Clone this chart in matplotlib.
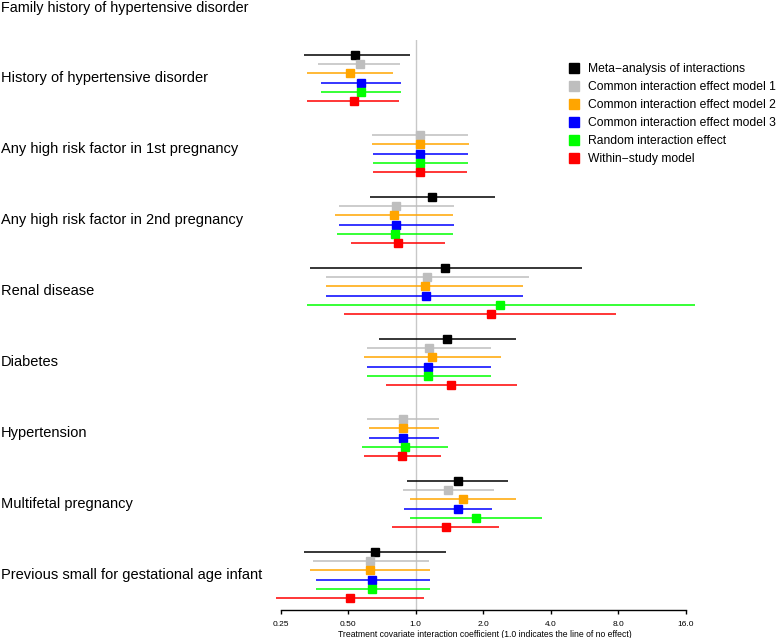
import numpy as np
import matplotlib
matplotlib.use("Agg")
import matplotlib.pyplot as plt
from matplotlib.lines import Line2D

plt.rcParams['font.family'] = ['Liberation Sans', 'DejaVu Sans']

nan = np.nan

groups = ["History of hypertensive disorder",
          "Any high risk factor in 1st pregnancy",
          "Any high risk factor in 2nd pregnancy",
          "Renal disease",
          "Diabetes",
          "Hypertension",
          "Multifetal pregnancy",
          "Previous small for gestational age infant"]

models = ["Meta\u2212analysis of interactions",
          "Common interaction effect model 1",
          "Common interaction effect model 2",
          "Common interaction effect model 3",
          "Random interaction effect",
          "Within\u2212study model"]
colors = ["#000000", "#bebebe", "#ffa500", "#0000ff", "#00ff00", "#ff0000"]

# estimates and intervals per model, one value per group
est_meta = [0.538, nan, 1.186, 1.355, 1.379, nan, 1.539, 0.659]
lo_meta = [0.317, nan, 0.625, 0.338, 0.688, nan, 0.918, 0.317]
hi_meta = [0.943, nan, 2.25, 5.5, 2.79, nan, 2.59, 1.369]

est_cm1 = [0.566, 1.048, 0.817, 1.127, 1.15, 0.878, 1.398, 0.628]
lo_cm1 = [0.368, 0.636, 0.456, 0.398, 0.607, 0.607, 0.875, 0.348]
hi_cm1 = [0.851, 1.716, 1.486, 3.2, 2.17, 1.266, 2.23, 1.143]

est_cm2 = [0.508, 1.048, 0.798, 1.097, 1.186, 0.878, 1.626, 0.628]
lo_cm2 = [0.328, 0.636, 0.437, 0.397, 0.59, 0.617, 0.946, 0.338]
hi_cm2 = [0.792, 1.73, 1.467, 3.02, 2.39, 1.266, 2.81, 1.154]

est_cm3 = [0.569, 1.048, 0.817, 1.108, 1.138, 0.878, 1.549, 0.641]
lo_cm3 = [0.378, 0.647, 0.456, 0.397, 0.607, 0.619, 0.887, 0.358]
hi_cm3 = [0.863, 1.716, 1.476, 3.02, 2.16, 1.266, 2.18, 1.154]

est_rand = [0.569, 1.048, 0.808, 2.377, 1.138, 0.899, 1.857, 0.641]
lo_rand = [0.378, 0.647, 0.447, 0.328, 0.607, 0.576, 0.946, 0.358]
hi_rand = [0.863, 1.706, 1.467, 17.6, 2.16, 1.393, 3.65, 1.154]

est_within = [0.529, 1.048, 0.836, 2.16, 1.437, 0.869, 1.361, 0.508]
lo_within = [0.328, 0.647, 0.516, 0.477, 0.737, 0.588, 0.786, 0.238]
hi_within = [0.84, 1.69, 1.355, 7.83, 2.82, 1.293, 2.35, 1.092]

xticks = [0.25, 0.5, 1.0, 2.0, 4.0, 8.0, 16.0]
xticklabels = ["0.25", "0.50", "1.0", "2.0", "4.0", "8.0", "16.0"]

all_est = [est_meta, est_cm1, est_cm2, est_cm3, est_rand, est_within]
all_lo = [lo_meta, lo_cm1, lo_cm2, lo_cm3, lo_rand, lo_within]
all_hi = [hi_meta, hi_cm1, hi_cm2, hi_cm3, hi_rand, hi_within]

group_step = 7.717

fig = plt.figure(figsize=(7.78, 6.38), dpi=100)
ax = fig.add_axes([270 / 778, 28 / 638, 430 / 778, 570 / 638])
ax.set_xscale('log', base=2)
ax.set_xlim(0.2241, 18.53)
ax.set_ylim(60.33, -1.63)

ax.axvline(1.0, color="#c8c8c8", lw=1, zorder=0)

for m in range(len(models)):
    for g in range(len(groups)):
        e = all_est[m][g]
        if np.isnan(e):
            continue
        y = g * group_step + m
        ax.plot([all_lo[m][g], all_hi[m][g]], [y, y], color=colors[m], lw=1.1,
                solid_capstyle='butt', clip_on=False)
        ax.plot(e, y, 's', color=colors[m], markersize=5.5, clip_on=False)

for g in range(len(groups)):
    ax.text(1 / 778, g * group_step + 2.5, groups[g], fontsize=10.5,
            va='center', ha='left',
            transform=matplotlib.transforms.blended_transform_factory(fig.transFigure, ax.transData))

fig.text(1 / 778, 1 - 8 / 638, "Family history of hypertensive disorder",
         fontsize=10.4, va='center', ha='left')

for s in ['top', 'right', 'left']:
    ax.spines[s].set_visible(False)
ax.spines['bottom'].set_bounds(0.25, 16)
ax.spines['bottom'].set_linewidth(1)
ax.set_yticks([])
ax.set_xticks(xticks)
ax.set_xticklabels(xticklabels)
ax.xaxis.set_minor_locator(matplotlib.ticker.NullLocator())
ax.tick_params(axis='x', labelsize=6, length=3, width=1, pad=5)
ax.set_xlabel("Treatment covariate interaction coefficient (1.0 indicates the line of no effect)",
              fontsize=6.2, labelpad=1.5)

handles = [Line2D([], [], marker='s', color=c, linestyle='none', markersize=7.5) for c in colors]
fig.legend(handles, models, loc='upper left', bbox_to_anchor=(563 / 778, 1 - 58 / 638),
           frameon=False, fontsize=8.7, labelspacing=0.5, handletextpad=0.55,
           handlelength=1.1, borderaxespad=0)

fig.savefig("out.png", dpi=100)
